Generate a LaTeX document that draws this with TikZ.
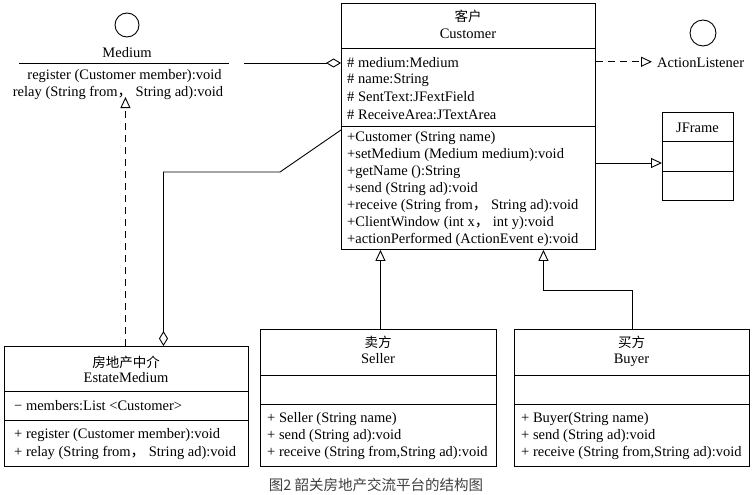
\documentclass[tikz,border=0pt]{standalone}
\usepackage{fontspec}
\setmainfont{Liberation Serif}
\newfontfamily\cjk{Noto Sans CJK SC}
\usetikzlibrary{arrows.meta}
\begin{document}
\begin{tikzpicture}[x=1pt,y=-1pt,
  box/.style={draw, line width=0.9pt, inner sep=0pt, anchor=north west},
  txt/.style={inner sep=0pt, anchor=base west, font=\fontsize{14.5}{17}\selectfont},
  ctxt/.style={inner sep=0pt, anchor=base, font=\fontsize{14.5}{17}\selectfont},
  cjktxt/.style={inner sep=0pt, anchor=base, font=\cjk\fontsize{13.5}{16}\selectfont},
  conn/.style={line width=0.9pt},
  inherit/.style={conn, -{Triangle[open,length=11pt,width=10pt]}},
  realize/.style={inherit, dash pattern=on 7pt off 5pt},
  aggr/.style={conn, -{Diamond[open,length=15pt,width=9pt]}},
  iface/.style={circle, draw, line width=0.9pt, inner sep=0pt},
]
\useasboundingbox (0,0) rectangle (755,495);

% ---------- Medium interface ----------
\node[iface, minimum size=24pt] (medcirc) at (127,25) {};
\node[ctxt] (medname) at (127,58) {Medium};
\draw[conn] (19,63) -- (229,63);
\node[ctxt] (medm1) at (124.5,79) {register (Customer member):void};
\node[ctxt] (medm2) at (118,96) {relay (String from{\cjk ，} String ad):void};

% ---------- Customer ----------
\node[box, minimum width=254pt, minimum height=246pt] (cust) at (341,3) {};
\draw[conn] (cust.west |- 0,48) -- (cust.east |- 0,48);
\draw[conn] (cust.west |- 0,126) -- (cust.east |- 0,126);
\node[cjktxt] (custcn) at (468,22) {客户};
\node[ctxt] (custen) at (468,39) {Customer};
\node[txt] (ca1) at (347,67) {\# medium:Medium};
\node[txt] (ca2) at (347,84) {\# name:String};
\node[txt] (ca3) at (347,101.5) {\# SentText:JFextField};
\node[txt] (ca4) at (347,119) {\# ReceiveArea:JTextArea};
\node[txt] (cm1) at (347,141) {+Customer (String name)};
\node[txt] (cm2) at (347,158) {+setMedium (Medium medium):void};
\node[txt] (cm3) at (347,175) {+getName ():String};
\node[txt] (cm4) at (347,192) {+send (String ad):void};
\node[txt] (cm5) at (347,209) {+receive (String from{\cjk ，} String ad):void};
\node[txt] (cm6) at (347,226) {+ClientWindow (int x{\cjk ，} int y):void};
\node[txt] (cm7) at (347,243) {+actionPerformed (ActionEvent e):void};

% ---------- ActionListener ----------
\node[iface, minimum size=26pt] (alcirc) at (703,33) {};
\node[txt] (al) at (657,67) {ActionListener};

% ---------- JFrame ----------
\node[box, minimum width=71pt, minimum height=88pt] (jframe) at (662,112) {};
\draw[conn] (jframe.west |- 0,141) -- (jframe.east |- 0,141);
\draw[conn] (jframe.west |- 0,171) -- (jframe.east |- 0,171);
\node[ctxt] (jfname) at (697.5,132) {JFrame};

% ---------- EstateMedium ----------
\node[box, minimum width=244pt, minimum height=120pt] (estate) at (4,346) {};
\draw[conn] (estate.west |- 0,391) -- (estate.east |- 0,391);
\draw[conn] (estate.west |- 0,420) -- (estate.east |- 0,420);
\node[cjktxt] (estcn) at (126,367) {房地产中介};
\node[ctxt] (esten) at (126,382) {EstateMedium};
\node[txt] (esta1) at (14,410) {− members:List <Customer>};
\node[txt] (estm1) at (14,438) {+ register (Customer member):void};
\node[txt] (estm2) at (14,456) {+ relay (String from{\cjk ，} String ad):void};

% ---------- Seller ----------
\node[box, minimum width=236pt, minimum height=137pt] (seller) at (260,329) {};
\draw[conn] (seller.west |- 0,375) -- (seller.east |- 0,375);
\draw[conn] (seller.west |- 0,404) -- (seller.east |- 0,404);
\node[cjktxt] (selcn) at (378,347) {卖方};
\node[ctxt] (selen) at (378,363) {Seller};
\node[txt] (selm1) at (267,422) {+ Seller (String name)};
\node[txt] (selm2) at (267,439) {+ send (String ad):void};
\node[txt] (selm3) at (267,456) {+ receive (String from,String ad):void};

% ---------- Buyer ----------
\node[box, minimum width=235pt, minimum height=137pt] (buyer) at (514,329) {};
\draw[conn] (buyer.west |- 0,375) -- (buyer.east |- 0,375);
\draw[conn] (buyer.west |- 0,404) -- (buyer.east |- 0,404);
\node[cjktxt] (buycn) at (631.5,347) {买方};
\node[ctxt] (buyen) at (631.5,363) {Buyer};
\node[txt] (buym1) at (521,422) {+ Buyer(String name)};
\node[txt] (buym2) at (521,439) {+ send (String ad):void};
\node[txt] (buym3) at (521,456) {+ receive (String from,String ad):void};

% ---------- connectors ----------
\coordinate (medagg) at (244,63);
\draw[aggr] (medagg) -- (medagg -| cust.west);
\draw[realize] (al.west -| cust.east) ++(0,-0.5) -- ([xshift=-5pt,yshift=0.5pt]al.west);
\draw[inherit] (cust.east |- 0,163) -- (jframe.west |- 0,163);
\coordinate (bend1) at (280,172);
\draw[aggr] (cust.west |- 0,130) -- (bend1) -| ([xshift=37pt]estate.north);
\draw[realize] ([xshift=-1pt]estate.north) -- ([xshift=-1pt]estate.north |- 0,97);
\draw[inherit] ([xshift=2pt]seller.north) -- ([xshift=2pt]seller.north |- cust.south);
\draw[inherit] (buyer.north) -- ++(0,-39) -| ([xshift=75pt]cust.south);

% ---------- caption ----------
\node[font=\cjk\fontsize{14.5}{17}\selectfont, text=black!75, inner sep=0pt, anchor=base] (cap) at (376,490) {图2 韶关房地产交流平台的结构图};
\end{tikzpicture}
\end{document}
